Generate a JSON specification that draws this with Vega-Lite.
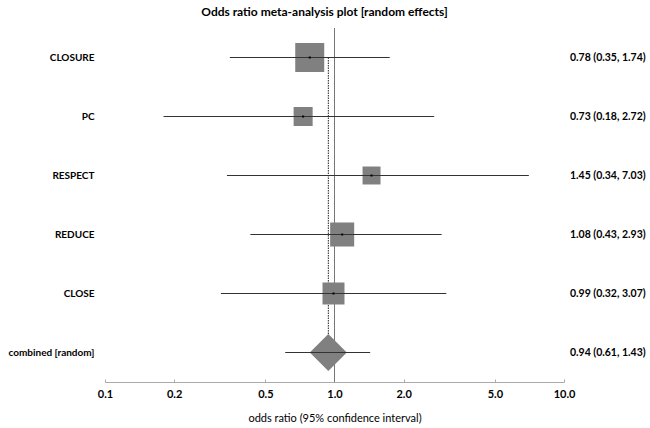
{
  "$schema": "https://vega.github.io/schema/vega-lite/v6.json",
  "width": 459,
  "height": 354,
  "autosize": {"type": "none"},
  "padding": {"left": 105, "top": 28, "right": 86, "bottom": 46},
  "background": "white",
  "config": {"view": {"stroke": null}, "font": "Lato"},
  "title": {"text": "Odds ratio meta-analysis plot [random effects]", "fontSize": 12, "fontWeight": "bold", "font": "Lato", "color": "#000", "anchor": "middle", "dx": -10, "offset": 9},
  "data": {"values": [
    {"study": "CLOSURE", "or": 0.78, "lo": 0.35, "hi": 1.74, "weight": 32.5, "ci": "0.78 (0.35, 1.74)"},
    {"study": "PC", "or": 0.73, "lo": 0.18, "hi": 2.72, "weight": 14.0, "ci": "0.73 (0.18, 2.72)"},
    {"study": "RESPECT", "or": 1.45, "lo": 0.34, "hi": 7.03, "weight": 12.5, "ci": "1.45 (0.34, 7.03)"},
    {"study": "REDUCE", "or": 1.08, "lo": 0.43, "hi": 2.93, "weight": 22.3, "ci": "1.08 (0.43, 2.93)"},
    {"study": "CLOSE", "or": 0.99, "lo": 0.32, "hi": 3.07, "weight": 18.7, "ci": "0.99 (0.32, 3.07)"},
    {"study": "combined [random]", "or": 0.94, "lo": 0.61, "hi": 1.43, "weight": 100, "ci": "0.94 (0.61, 1.43)"}
  ]},
  "encoding": {
    "y": {"field": "study", "type": "nominal", "sort": null,
      "scale": {"type": "point", "padding": 0.5, "domain": ["CLOSURE", "PC", "RESPECT", "REDUCE", "CLOSE", "combined [random]"]},
      "axis": {"title": null, "domain": false, "ticks": false, "labelFontWeight": "bold", "labelFontSize": 10, "labelColor": "#000", "labelPadding": 11, "labelFont": "Lato"}}
  },
  "layer": [
    {"mark": {"type": "rule", "color": "#777", "strokeWidth": 1},
     "encoding": {"x": {"datum": 1, "type": "quantitative", "scale": {"type": "log", "domain": [0.1, 10]},
       "axis": {"values": [0.1, 0.2, 0.5, 1, 2, 5, 10], "format": ".1f", "grid": false, "labelFlush": false, "domainColor": "#aaa", "tickColor": "#aaa", "tickSize": -3, "labelPadding": 9, "labelFontSize": 11, "labelFontWeight": "bold", "labelColor": "#000", "labelFont": "Lato", "title": "odds ratio (95% confidence interval)", "titleFontSize": 11, "titleFontWeight": "normal", "titleColor": "#000", "titleFont": "Lato", "titlePadding": 13}},
       "y": null}},
    {"transform": [{"filter": "datum.study === 'combined [random]'"}],
     "mark": {"type": "rule", "color": "#222", "strokeWidth": 1, "strokeDash": [1.5, 1]},
     "encoding": {"x": {"field": "or", "type": "quantitative"}, "y": {"datum": "CLOSURE"}, "y2": {"field": "study"}}},
    {"transform": [{"filter": "datum.study !== 'combined [random]'"}],
     "mark": {"type": "square", "color": "#808080", "opacity": 1, "filled": true},
     "encoding": {"x": {"field": "or", "type": "quantitative"},
       "size": {"field": "weight", "type": "quantitative", "scale": {"type": "linear", "domain": [0, 32.5], "range": [0, 841]}, "legend": null}}},
    {"transform": [{"filter": "datum.study === 'combined [random]'"}],
     "mark": {"type": "point", "shape": "diamond", "filled": true, "color": "#808080", "opacity": 1, "size": 1369},
     "encoding": {"x": {"field": "or", "type": "quantitative"}}},
    {"mark": {"type": "rule", "color": "#333", "strokeWidth": 1},
     "encoding": {"x": {"field": "lo", "type": "quantitative"}, "x2": {"field": "hi"}}},
    {"transform": [{"filter": "datum.study !== 'combined [random]'"}],
     "mark": {"type": "point", "shape": "square", "filled": true, "color": "#000", "opacity": 1, "size": 4},
     "encoding": {"x": {"field": "or", "type": "quantitative"}}},
    {"mark": {"type": "text", "align": "left", "baseline": "middle", "dx": 6, "fontSize": 10.5, "fontWeight": "bold", "color": "#000", "font": "Lato"},
     "encoding": {"x": {"datum": 10, "type": "quantitative"}, "text": {"field": "ci"}}}
  ]
}
